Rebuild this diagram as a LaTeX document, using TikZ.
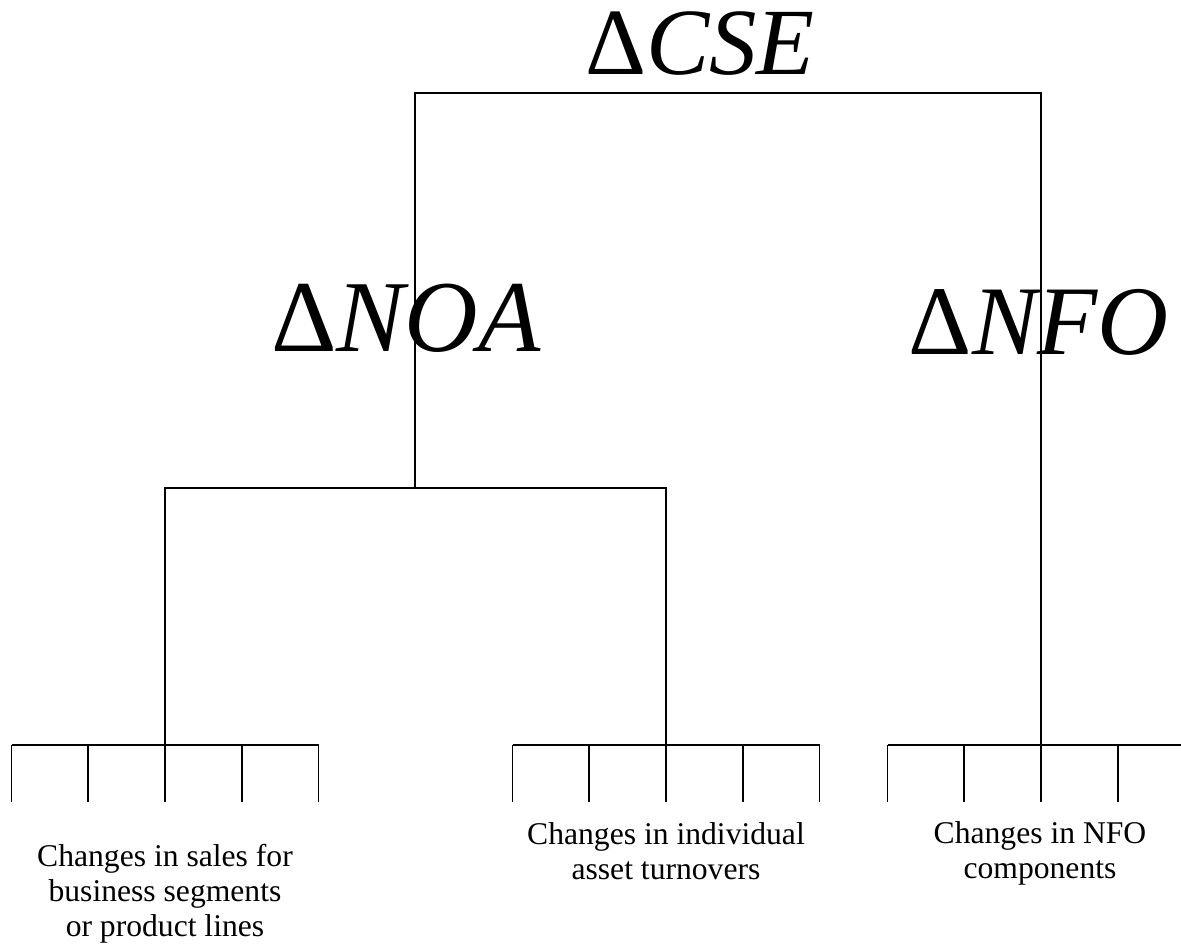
\documentclass[tikz,border=0pt]{standalone}
\usepackage{fontspec}
\setmainfont{Liberation Serif}
\usetikzlibrary{positioning}

\begin{document}
\begin{tikzpicture}[x=0.02cm,y=-0.02cm,line width=1.1pt,
    big node/.style={anchor=base,inner sep=0pt},
    leaf node/.style={align=center,font=\fontsize{18}{19.8}\selectfont}]
  \path[use as bounding box,clip] (0,0) rectangle (1181,944);

  % headings
  \node[big node,font=\fontsize{54}{60}\selectfont] (cse) at (700,74) {Δ\textit{CSE}};
  \node[big node,font=\fontsize{58}{64}\selectfont] (noa) at (406,351) {Δ\textit{NOA}};
  \node[big node,font=\fontsize{56}{62}\selectfont] (nfo) at (1039,354) {Δ\textit{NFO}};

  % junctions
  \coordinate (top l) at (415,93);
  \coordinate (top r) at (1041,93);
  \coordinate (mid) at (415,488);
  \coordinate (mid l) at (165,488);
  \coordinate (mid r) at (666,488);
  \coordinate (g1) at (165,745);
  \coordinate (g2) at (666,745);
  \coordinate (g3) at (1041,745);

  \draw (mid) -- (top l) -- (top r) -- (g3);
  \draw (g1) -- (mid l) -- (mid r) -- (g2);

  % combs
  \foreach \g in {g1,g2,g3} {
    \draw ([xshift=-153.5*0.02cm]\g) -- ([xshift=153.5*0.02cm]\g);
    \foreach \k in {-2,...,2}
      \draw ([xshift=\k*76.75*0.02cm]\g) -- ++(0,57);
  }

  % leaves
  \node[leaf node] (sales) at (165,894) {Changes in sales for\\business segments\\or product lines};
  \node[leaf node] (turn) at (666,851) {Changes in individual\\asset turnovers};
  \node[leaf node] (comp) at (1040,853) {Changes in NFO\\components};
\end{tikzpicture}
\end{document}
